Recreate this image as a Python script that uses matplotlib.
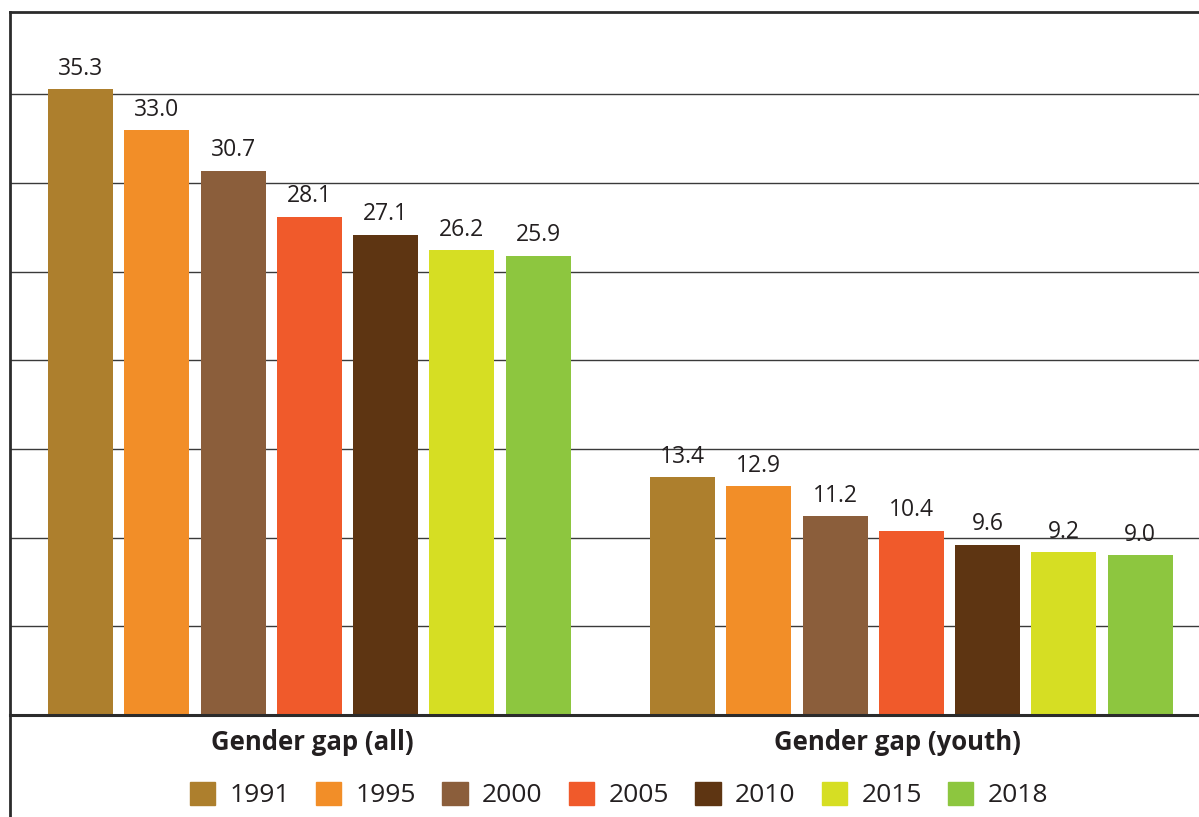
import matplotlib.pyplot as plt
import matplotlib.patches as patches
from matplotlib.lines import Line2D

# Gender gap values by year, for the two groups
groups = ["Gender gap (all)", "Gender gap (youth)"]
years = ["1991", "1995", "2000", "2005", "2010", "2015", "2018"]
gap_all = [35.3, 33.0, 30.7, 28.1, 27.1, 26.2, 25.9]
gap_youth = [13.4, 12.9, 11.2, 10.4, 9.6, 9.2, 9.0]

colors = ["#AD7F2D", "#F28E28", "#8B5E3B", "#F05A2B",
          "#5E3512", "#D6DE23", "#8DC63F"]

plt.rcParams['font.family'] = ['Open Sans', 'DejaVu Sans']

fig = plt.figure(figsize=(11.99, 8.17), dpi=100)
W, H = 1199, 817
ax = fig.add_axes([10 / W, (H - 715) / H, (W - 10) / W, (715 - 12) / H])

group_offset = 7.89
bar_width = 0.852
for g, values in enumerate([gap_all, gap_youth]):
    for i, v in enumerate(values):
        x = g * group_offset + i
        ax.bar(x, v, width=bar_width, color=colors[i], zorder=3)
        ax.annotate(f"{v:.1f}", (x, v), xytext=(0, 6), textcoords="offset points",
                    ha="center", va="bottom", fontsize=16.5, color="#231F20")

ax.set_xlim(-0.924, 14.66)
ax.set_ylim(0, 39.65)

# horizontal rules every 5 units, no tick labels
for y in range(5, 40, 5):
    ax.axhline(y, color="#3a3a3a", lw=1.0, zorder=1)
ax.set_xticks([])
ax.set_yticks([])
for s in ["right", "top", "left"]:
    ax.spines[s].set_visible(False)
ax.spines["bottom"].set_linewidth(2.2)
ax.spines["bottom"].set_color("#2b2b2b")
ax.spines["bottom"].set_zorder(4)

# outer frame: top rule and left rule running to the bottom of the figure
fig.add_artist(Line2D([9.5 / W, 1], [1 - 12 / H, 1 - 12 / H], color="#2b2b2b", lw=2.0))
fig.add_artist(Line2D([10 / W, 10 / W], [0, 1 - 12 / H], color="#2b2b2b", lw=2.0))

# group labels under the bars
label_x = [312 / W, 897 / W]
for name, xc in zip(groups, label_x):
    fig.text(xc, 1 - 742 / H, name, ha="center", va="center", fontsize=18.5,
             fontweight="bold", color="#231F20")

handles = [patches.Patch(color=c) for c in colors]
fig.legend(handles, years, loc="center", bbox_to_anchor=(619 / W, 1 - 795 / H),
           ncol=7, frameon=False, fontsize=19, handlelength=0.95, handleheight=0.95,
           handletextpad=0.55, columnspacing=1.0, labelcolor="#231F20")

fig.savefig("out.png", dpi=100)
